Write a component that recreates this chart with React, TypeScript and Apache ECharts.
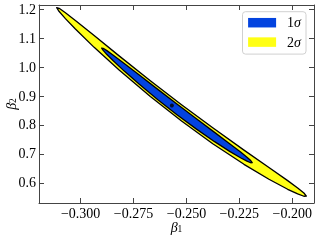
import React, { useEffect, useRef } from "react";
import * as echarts from "echarts";

// Tick values and labels
const xTickValues = [-0.3, -0.275, -0.25, -0.225, -0.2];
const xTickLabels = ["\u22120.300", "\u22120.275", "\u22120.250", "\u22120.225", "\u22120.200"];
const yTickValues = [0.6, 0.7, 0.8, 0.9, 1.0, 1.1, 1.2];
const yTickLabels = ["0.6", "0.7", "0.8", "0.9", "1.0", "1.1", "1.2"];

const seriesNames = ["1σ", "2σ"];
const seriesColors = ["#0343df", "#ffff14"];

// 2σ contour vertices (β1, β2)
const contour2Sigma: number[][] = [
  [-0.31134, 1.2061], [-0.31016, 1.2037], [-0.30721, 1.1885], [-0.3025, 1.1617],
  [-0.29363, 1.1091], [-0.28183, 1.039], [-0.26707, 0.9532], [-0.25232, 0.8702],
  [-0.23756, 0.7902], [-0.2228, 0.713], [-0.211, 0.6526], [-0.20214, 0.6073],
  [-0.19742, 0.5821], [-0.19447, 0.5647], [-0.19329, 0.554], [-0.19447, 0.5534],
  [-0.19742, 0.5613], [-0.20214, 0.5774], [-0.211, 0.6121], [-0.2228, 0.6638],
  [-0.23756, 0.7352], [-0.25232, 0.8135], [-0.26707, 0.8982], [-0.28183, 0.9899],
  [-0.29363, 1.0685], [-0.3025, 1.1318], [-0.30721, 1.1677], [-0.31016, 1.1924],
];

// 1σ contour vertices (β1, β2)
const contour1Sigma: number[][] = [
  [-0.29008, 1.0661], [-0.28936, 1.0652], [-0.28759, 1.0571], [-0.28474, 1.0422],
  [-0.2794, 1.0127], [-0.27228, 0.9725], [-0.26338, 0.9222], [-0.25449, 0.8724],
  [-0.24559, 0.8231], [-0.2367, 0.7743], [-0.22958, 0.7352], [-0.22424, 0.7052],
  [-0.22139, 0.6884], [-0.21962, 0.6767], [-0.2189, 0.6695], [-0.21962, 0.6693],
  [-0.22139, 0.6747], [-0.22424, 0.6856], [-0.22958, 0.7087], [-0.2367, 0.7422],
  [-0.24559, 0.7873], [-0.25449, 0.8354], [-0.26338, 0.8864], [-0.27228, 0.9405],
  [-0.2794, 0.9863], [-0.28474, 1.0227], [-0.28759, 1.0435], [-0.28936, 1.0579],
];

const bestFit: number[][] = [[-0.2569, 0.867]];

const X_MIN = -0.3197;
const X_MAX = -0.1897;
const Y_MIN = 0.53;
const Y_MAX = 1.215;

const FONT = "'Liberation Serif', 'Times New Roman', serif";
const AXIS_COLOR = "#444";

function contourRenderer(points: number[][], color: string) {
  return (params: any, api: any) => {
    if (params.dataIndex !== 0) return null;
    return {
      type: "polygon",
      shape: { points: points.map((p) => api.coord(p)) },
      style: { fill: color, stroke: "#000", lineWidth: 1.3, lineJoin: "round" },
    };
  };
}

export default function App() {
  const ref = useRef<HTMLDivElement>(null);
  useEffect(() => {
    if (!ref.current) return;
    const chart = echarts.init(ref.current, undefined, { renderer: "svg" });
    const xLabel = (v: number) => {
      const i = xTickValues.findIndex((t) => Math.abs(t - v) < 1e-9);
      return i >= 0 ? xTickLabels[i] : "";
    };
    const yLabel = (v: number) => {
      const i = yTickValues.findIndex((t) => Math.abs(t - v) < 1e-9);
      return i >= 0 ? yTickLabels[i] : "";
    };
    const axisLine = { show: true, lineStyle: { color: AXIS_COLOR, width: 1 } };
    const nameRich = {
      b: { fontFamily: FONT, fontStyle: "italic", fontSize: 14, color: "#000", lineHeight: 14 },
      s: { fontFamily: FONT, fontSize: 9.5, color: "#000", verticalAlign: "bottom", lineHeight: 10, padding: [5, 0, 0, 0] },
    };
    chart.setOption({
      animation: false,
      grid: { left: 39, right: 6, top: 5, bottom: 37, containLabel: false, outerBoundsMode: "none" },
      xAxis: [
        {
          type: "value",
          min: X_MIN,
          max: X_MAX,
          position: "bottom",
          axisLine,
          splitLine: { show: false },
          axisTick: { show: true, inside: true, length: 5, lineStyle: { color: AXIS_COLOR }, customValues: xTickValues },
          axisLabel: {
            show: true,
            customValues: xTickValues,
            formatter: xLabel,
            margin: 3,
            color: "#000",
            fontFamily: FONT,
            fontSize: 14,
          },
          name: "{b|β}{s|1}",
          nameLocation: "middle",
          nameGap: 17,
          nameMoveOverlap: false,
          nameTextStyle: { rich: nameRich },
        },
        {
          type: "value",
          min: X_MIN,
          max: X_MAX,
          position: "top",
          axisLine,
          splitLine: { show: false },
          axisTick: { show: true, inside: true, length: 5, lineStyle: { color: AXIS_COLOR }, customValues: xTickValues },
          axisLabel: { show: false },
        },
      ],
      yAxis: [
        {
          type: "value",
          min: Y_MIN,
          max: Y_MAX,
          position: "left",
          axisLine,
          splitLine: { show: false },
          axisTick: { show: true, inside: true, length: 5, lineStyle: { color: AXIS_COLOR }, customValues: yTickValues },
          axisLabel: {
            show: true,
            customValues: yTickValues,
            formatter: yLabel,
            margin: 3,
            color: "#000",
            fontFamily: FONT,
            fontSize: 14,
          },
          name: "{b|β}{s|2}",
          nameLocation: "middle",
          nameGap: 21,
          nameMoveOverlap: false,
          nameTextStyle: { rich: nameRich },
        },
        {
          type: "value",
          min: Y_MIN,
          max: Y_MAX,
          position: "right",
          axisLine,
          splitLine: { show: false },
          axisTick: { show: true, inside: true, length: 5, lineStyle: { color: AXIS_COLOR }, customValues: yTickValues },
          axisLabel: { show: false },
        },
      ],
      legend: {
        orient: "vertical",
        right: 14,
        top: 11.7,
        padding: [4, 5, 5, 5.6],
        itemWidth: 28,
        itemHeight: 9.5,
        itemGap: 5.4,
        backgroundColor: "rgba(255,255,255,0.8)",
        borderColor: "#d0d0d0",
        borderWidth: 1,
        borderRadius: 3,
        data: [
          { name: seriesNames[0], icon: "rect", itemStyle: { color: seriesColors[0], borderWidth: 0 } },
          { name: seriesNames[1], icon: "rect", itemStyle: { color: seriesColors[1], borderWidth: 0 } },
        ],
        formatter: (name: string) => `{n|${name.slice(0, 1)}}{s|σ}`,
        textStyle: {
          lineHeight: 14,
          padding: [0, 0, 0, 6],
          rich: {
            n: { fontFamily: FONT, fontSize: 14, color: "#000", lineHeight: 14 },
            s: { fontFamily: FONT, fontStyle: "italic", fontSize: 14, color: "#000", lineHeight: 14 },
          },
        },
      },
      series: [
        {
          name: seriesNames[1],
          type: "custom",
          xAxisIndex: 0,
          yAxisIndex: 0,
          itemStyle: { color: seriesColors[1] },
          renderItem: contourRenderer(contour2Sigma, seriesColors[1]),
          data: contour2Sigma,
          z: 2,
        },
        {
          name: seriesNames[0],
          type: "custom",
          xAxisIndex: 0,
          yAxisIndex: 0,
          itemStyle: { color: seriesColors[0] },
          renderItem: contourRenderer(contour1Sigma, seriesColors[0]),
          data: contour1Sigma,
          z: 3,
        },
        {
          name: "best fit",
          type: "scatter",
          xAxisIndex: 0,
          yAxisIndex: 0,
          symbol: "circle",
          symbolSize: 4,
          itemStyle: { color: "#000" },
          data: bestFit,
          z: 4,
        },
      ],
    });
    return () => chart.dispose();
  }, []);
  return (
    <div
      ref={ref}
      style={{ position: "fixed", left: 0, top: 0, width: 320, height: 240 }}
    />
  );
}
